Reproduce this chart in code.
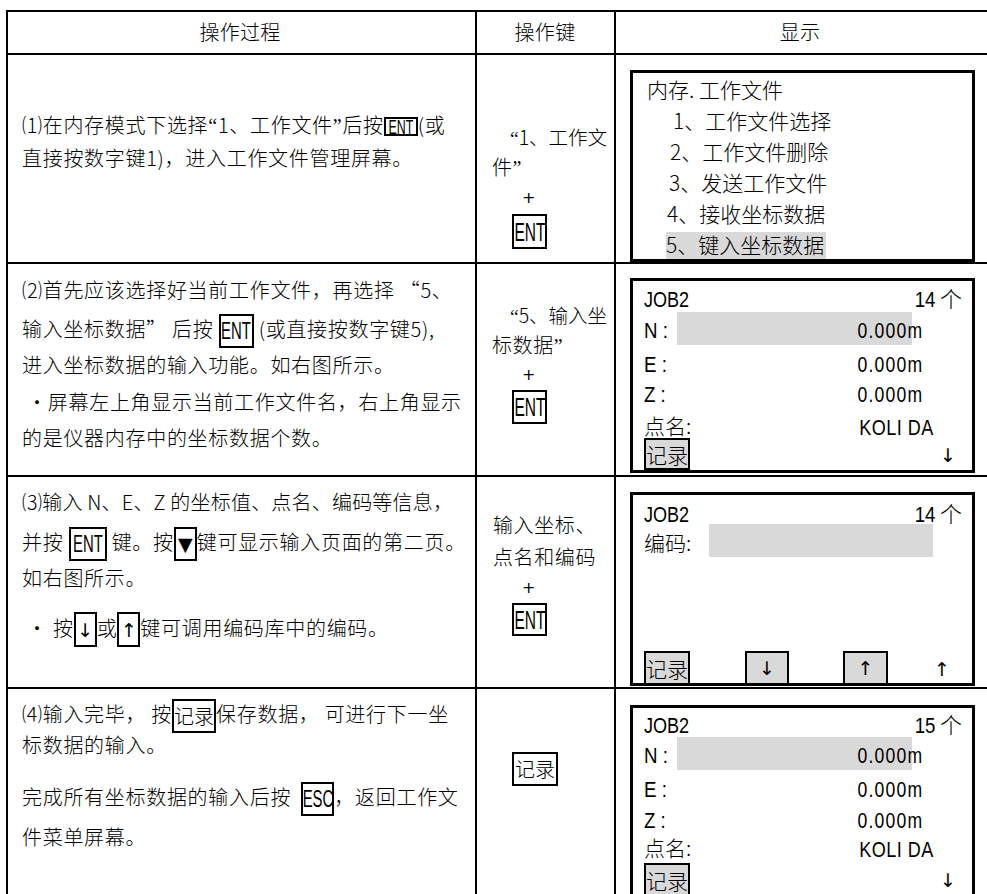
<!DOCTYPE html>
<html><head><meta charset="utf-8">
<script src="https://cdn.jsdelivr.net/npm/chart.js@4.4.1/dist/chart.umd.min.js"></script>
<style>
html,body{margin:0;padding:0;background:#fff;width:987px;height:894px;overflow:hidden}
#page{position:relative;width:987px;height:894px;font-family:"Noto Sans CJK SC","Noto Sans",sans-serif;font-weight:300;color:#000}
.ln{position:absolute;background:#000}
.t{position:absolute;white-space:nowrap;line-height:24px;height:24px;font-size:20px;letter-spacing:0.7px}
.k{display:inline-block;box-sizing:border-box;border:2px solid #000;position:relative;letter-spacing:0}
.k i,.bx i{position:absolute;left:50%;top:50%;font-style:normal;line-height:1;white-space:nowrap}
.bx{position:absolute;box-sizing:border-box;border:2px solid #000}
.sq{display:inline-block}
.lq{font-family:"Liberation Serif","DejaVu Serif",serif;font-weight:400}
.ar{font-family:"DejaVu Sans",sans-serif;font-weight:400}
.scr{position:absolute;border:3px solid #000;box-sizing:border-box}
.g{position:absolute;background:#d9d9d9}
</style></head>
<body><div id="page"></div>
<script>
// ---- content ----
const headers = ['操作过程', '操作键', '显示'];
const stepLines = [
  [['⑴在内存模式下选择“1、工作文件”后按', {k:'ENT'}, '(或'], ['直接按数字键1)，进入工作文件管理屏幕。']],
  [['⑵首先应该选择好当前工作文件，再选择 “5、'], ['输入坐标数据” 后按 ', {k:'ENT'}, ' (或直接按数字键5),'], ['进入坐标数据的输入功能。如右图所示。'], [' •屏幕左上角显示当前工作文件名，右上角显示'], ['的是仪器内存中的坐标数据个数。']],
  [['⑶输入 N、E、Z 的坐标值、点名、编码等信息，'], ['并按 ', {k:'ENT'}, ' 键。按', {k:'▼'}, '键可显示输入页面的第二页。'], ['如右图所示。'], [' • 按', {k:'↓'}, '或', {k:'↑'}, '键可调用编码库中的编码。']],
  [['⑷输入完毕， 按', {k:'记录'}, '保存数据， 可进行下一坐'], ['标数据的输入。'], ['完成所有坐标数据的输入后按  ', {k:'ESC'}, '，返回工作文'], ['件菜单屏幕。']]
];
const keyLines = [
  ['“1、工作文', '件”', '+', 'ENT'],
  ['“5、输入坐', '标数据”', '+', 'ENT'],
  ['输入坐标、', '点名和编码', '+', 'ENT'],
  ['记录']
];
const menuTitle = '内存. 工作文件';
const menuItems = ['1、工作文件选择', '2、工作文件删除', '3、发送工作文件', '4、接收坐标数据', '5、键入坐标数据'];
const jobName = 'JOB2';
const pointCounts = ['14', '14', '15'];
const coordLabels = ['N', 'E', 'Z'];
const coordValues = ['0.000m', '0.000m', '0.000m'];
const pointName = 'KOLIDA';
const codeLabel = '编码:';
const nameLabel = '点名:';
const recordKey = '记录';

// ---- helpers ----
const P = document.getElementById('page');
function el(cls, css, html) {
  const d = document.createElement('div');
  d.className = cls; d.style.cssText = css; if (html !== undefined) d.innerHTML = html;
  P.appendChild(d); return d;
}
function hl(x1, x2, y, h) { el('ln', `left:${x1}px;top:${y}px;width:${x2 - x1}px;height:${h}px`); }
function vl(x, y1, y2, w) { el('ln', `left:${x}px;top:${y1}px;width:${w}px;height:${y2 - y1}px`); }
function txt(x, yc, html, extra) { return el('t', `left:${x}px;top:${yc - 12}px;${extra || ''}`, html); }
function txtR(xr, yc, html, extra) { return el('t', `right:${987 - xr}px;top:${yc - 12}px;${extra || ''}`, html); }
function txtC(xc, yc, html, extra) { return el('t', `left:${xc}px;top:${yc - 12}px;transform:translateX(-50%);${extra || ''}`, html); }
const isLatin = s => /^[A-Za-z0-9]+$/.test(s);
const isArrow = s => /^[↓↑▼]$/.test(s);
function keyInner(label, fs) {
  if (isLatin(label)) return `<i style="font-family:'Liberation Sans','DejaVu Sans',sans-serif;font-weight:400;font-size:${fs}px;transform:translate(-50%,-50%) scaleX(0.62)">${label}</i>`;
  if (isArrow(label)) return `<i class="ar" style="font-size:19px;transform:translate(-50%,-50%)">${label}</i>`;
  return `<i style="font-size:20px;transform:translate(-50%,-52%)">${label}</i>`;
}
const narrowQuotes = s => s.replace(/[“”]/g, m => `<span class="lq">${m}</span>`);
const nar = (s, k) => `<span class="sq" style="font-family:'Liberation Sans','DejaVu Sans',sans-serif;font-weight:400;transform:scaleX(${k});transform-origin:left center">${s}</span>`;
const narR = (s, k, ls) => `<span class="sq" style="font-family:'Liberation Sans','DejaVu Sans',sans-serif;font-weight:400;letter-spacing:${ls || 0}px;transform:scaleX(${k});transform-origin:right center">${s}</span>`;

// ---- grid ----
hl(6, 987, 10, 2);
hl(6, 987, 53, 2);
[262, 475, 687].forEach(y => hl(6, 987, y, 2));
vl(6, 10, 894, 2); vl(475, 10, 894, 2); vl(614, 10, 894, 2);

// headers
txtC(240, 32, headers[0], 'letter-spacing:0.3px');
txtC(545, 32, headers[1], 'letter-spacing:0.3px');
txtC(800, 32, headers[2], 'letter-spacing:0.3px');

// ---- step text (column 1) ----
const stepY = [[125, 158], [290, 327, 365, 402, 438], [502, 540, 578, 625], [712, 745, 795, 837]];
const keyBoxSize = [
  [{w:34, h:19}],
  [{w:35, h:34}],
  [{w:38, h:34}, {w:23, h:34}, {w:23, h:35}, {w:23, h:35}],
  [{w:44, h:34}, {w:33, h:34}]
];
const lineSpacingFix = {'2-0': 0.2};
stepLines.forEach((lines, r) => {
  let ki = 0;
  lines.forEach((segs, i) => {
    let html = '';
    segs.forEach(s => {
      if (typeof s === 'string') {
        let h = s.replace(/ /g, '&nbsp;');
        if (r === 0) h = narrowQuotes(h);
        html += h;
      } else {
        const sz = keyBoxSize[r][Math.min(ki, keyBoxSize[r].length - 1)]; ki++;
        html += `<span class="k" style="width:${sz.w}px;height:${sz.h}px;vertical-align:middle;top:-1px">${keyInner(s.k, sz.h > 25 ? 24 : 20)}</span>`;
      }
    });
    const fix = lineSpacingFix[r + '-' + i];
    txt(22, stepY[r][i], html, fix !== undefined ? `letter-spacing:${fix}px` : '');
  });
});

// ---- operation key column ----
const keyPos = [
  {l1:[510, 137], l2:[492, 167], plus:198, box:[214, 249]},
  {l1:[510, 315], l2:[492, 345], plus:375, box:[390, 424]},
  {l1:[493, 525], l2:[493, 557], plus:588, box:[603, 636]}
];
keyPos.forEach((p, r) => {
  txt(p.l1[0], p.l1[1], narrowQuotes(keyLines[r][0]), r < 2 ? 'letter-spacing:0;font-size:19.5px' : 'letter-spacing:0.6px');
  txt(p.l2[0], p.l2[1], narrowQuotes(keyLines[r][1]), 'letter-spacing:0.6px');
  txtC(529, p.plus, keyLines[r][2], "font-size:16px;font-family:'DejaVu Sans',sans-serif;font-weight:400");
  el('bx', `left:512px;top:${p.box[0]}px;width:35px;height:${p.box[1] - p.box[0]}px`, keyInner(keyLines[r][3], 25));
});
el('bx', 'left:512px;top:752px;width:46px;height:34px', keyInner(keyLines[3][0], 20));

// ---- screens ----
const SX1 = 630, SX2 = 975;
el('scr', `left:${SX1}px;top:70px;width:${SX2 - SX1}px;height:${262 - 70}px`);
el('scr', `left:${SX1}px;top:278px;width:${SX2 - SX1}px;height:${473 - 278}px`);
el('scr', `left:${SX1}px;top:492px;width:${SX2 - SX1}px;height:${686 - 492}px`);
el('scr', `left:${SX1}px;top:705px;width:${SX2 - SX1}px;height:${910 - 705}px`);

// screen 1: menu
el('g', 'left:666px;top:232px;width:160px;height:27px');
txt(647, 89, menuTitle, 'font-size:21px;letter-spacing:0');
const menuX = [673, 670, 669, 667, 666], menuY = [120, 151, 182, 213, 244];
menuItems.forEach((m, i) => txt(menuX[i], menuY[i], m, 'font-size:21px;letter-spacing:0'));

function recordBox(x, top, h, noBottom) {
  el('bx', `left:${x}px;top:${top}px;width:46px;height:${h}px;background:#d9d9d9;${noBottom ? 'border-bottom:none;' : ''}`,
    `<i style="font-size:21px;transform:translate(-50%,-50%)">${recordKey}</i>`);
}
function arrow(xc, yc, a) {
  el('t', `left:${xc - 8}px;top:${yc - 10}px;width:16px;height:20px;line-height:20px;font-size:19px;text-align:center;letter-spacing:0`, `<span class="ar">${a}</span>`);
}

// coordinate screens (2 and 4)
function coordScreen(y, count, last) {
  txt(644, y[0], nar(jobName, 0.82), 'font-size:22px;letter-spacing:0');
  txtR(962, y[0], `${narR(count, 0.85)}&nbsp;个`, 'font-size:22px;letter-spacing:0');
  el('g', `left:677px;top:${y[1] - 16}px;width:235px;height:33px`);
  coordLabels.forEach((lab, i) => {
    txt(644, y[1 + i], nar(lab + '&nbsp;:', 0.85), 'font-size:22px;letter-spacing:0');
    txtR(923, y[1 + i], narR(coordValues[i], 0.8, 1.5), 'font-size:22px');
  });
  txt(644, y[4], nameLabel, 'font-size:21px;letter-spacing:0');
  const pn = pointName.slice(0, 4) + '<span style="margin-left:7px">' + pointName.slice(4) + '</span>';
  txtR(934, y[4], narR(pn, 0.82, 0.5), 'font-size:22px');
  if (last) {
    recordBox(644, 863, 894 - 863, true);
    arrow(948, 879, '↓');
  } else {
    recordBox(644, 438, 32, false);
    arrow(948, 454, '↓');
  }
}
coordScreen([297, 328, 362, 392, 425], pointCounts[0], false);
coordScreen([723, 753, 787, 818, 847], pointCounts[2], true);

// screen 3: code page
txt(644, 512, nar(jobName, 0.82), 'font-size:22px;letter-spacing:0');
txtR(962, 512, `${narR(pointCounts[1], 0.85)}&nbsp;个`, 'font-size:22px;letter-spacing:0');
txt(644, 542, codeLabel, 'font-size:21px;letter-spacing:0');
el('g', 'left:709px;top:524px;width:224px;height:33px');
recordBox(644, 651, 34, false);
el('bx', 'left:745px;top:651px;width:44px;height:34px;background:#d9d9d9', '<i class="ar" style="font-size:19px;transform:translate(-50%,-50%)">↓</i>');
el('bx', 'left:843px;top:651px;width:45px;height:34px;background:#d9d9d9', '<i class="ar" style="font-size:19px;transform:translate(-50%,-50%)">↑</i>');
arrow(942, 668, '↑');
</script>
</body></html>
